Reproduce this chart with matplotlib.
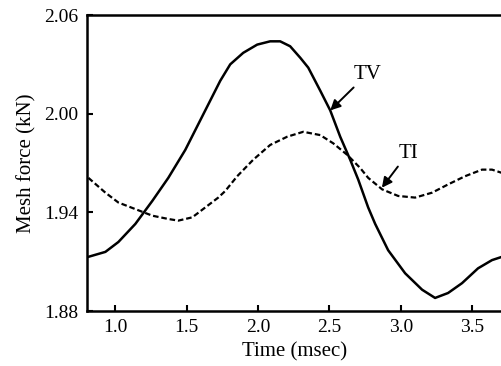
import matplotlib.pyplot as plt

plt.rcParams['font.family'] = ['Liberation Serif', 'DejaVu Serif']

# Time (msec) and mesh force (kN)
tv_time = [0.811, 0.930, 1.021, 1.140, 1.259, 1.371, 1.490, 1.595, 1.665, 1.735,
           1.805, 1.896, 1.994, 2.085, 2.155, 2.225, 2.296, 2.352, 2.436, 2.506,
           2.576, 2.646, 2.702, 2.772, 2.821, 2.912, 3.031, 3.150, 3.241, 3.332,
           3.430, 3.542, 3.640, 3.710]
tv_force = [1.913, 1.916, 1.922, 1.933, 1.947, 1.961, 1.978, 1.996, 2.008, 2.020,
            2.030, 2.037, 2.042, 2.044, 2.044, 2.041, 2.034, 2.028, 2.014, 2.002,
            1.986, 1.972, 1.960, 1.943, 1.933, 1.917, 1.903, 1.893, 1.888, 1.891,
            1.897, 1.906, 1.911, 1.913]

ti_time = [0.811, 0.930, 1.021, 1.140, 1.259, 1.371, 1.441, 1.539, 1.630, 1.721,
           1.770, 1.854, 1.966, 2.085, 2.204, 2.317, 2.436, 2.527, 2.625, 2.716,
           2.772, 2.870, 2.982, 3.101, 3.220, 3.332, 3.451, 3.570, 3.640, 3.710]
ti_force = [1.961, 1.952, 1.946, 1.942, 1.938, 1.936, 1.935, 1.937, 1.943, 1.949,
            1.953, 1.962, 1.972, 1.981, 1.986, 1.989, 1.987, 1.982, 1.975, 1.967,
            1.961, 1.954, 1.950, 1.949, 1.952, 1.957, 1.962, 1.966, 1.966, 1.964]

x_ticks = [1.0, 1.5, 2.0, 2.5, 3.0, 3.5]
y_ticks = [1.88, 1.94, 2.00, 2.06]

fig = plt.figure(figsize=(5.02, 3.66), dpi=100)
ax = fig.add_axes([0.173, 0.150, 0.827, 0.809])

ax.plot(tv_time, tv_force, color='black', lw=1.8, solid_joinstyle='round')
ax.plot(ti_time, ti_force, color='black', lw=1.6, ls=(0, (2.5, 1.3)))

ax.set_xlim(0.8, 3.71)
ax.set_ylim(1.88, 2.06)
ax.set_xticks(x_ticks)
ax.set_xticklabels(['%.1f' % t for t in x_ticks])
ax.set_yticks(y_ticks)
ax.set_yticklabels(['%.2f' % t for t in y_ticks])
ax.tick_params(direction='in', length=4, width=1.5, labelsize=14, pad=6)

for side in ['left', 'bottom', 'top']:
    ax.spines[side].set_linewidth(1.8)
ax.spines['right'].set_visible(False)

ax.set_xlabel('Time (msec)', fontsize=15, labelpad=4)
ax.set_ylabel('Mesh force (kN)', fontsize=15, labelpad=6)

ax.annotate('TV', xy=(2.506, 2.002), xytext=(2.667, 2.024),
            fontsize=15, ha='left', va='center',
            arrowprops=dict(arrowstyle='-|>', color='black', lw=1.4,
                            mutation_scale=15, shrinkA=1, shrinkB=0))
ax.annotate('TI', xy=(2.868, 1.955), xytext=(2.982, 1.976),
            fontsize=15, ha='left', va='center',
            arrowprops=dict(arrowstyle='-|>', color='black', lw=1.4,
                            mutation_scale=15, shrinkA=1, shrinkB=0))

plt.savefig('out.png', dpi=100)
